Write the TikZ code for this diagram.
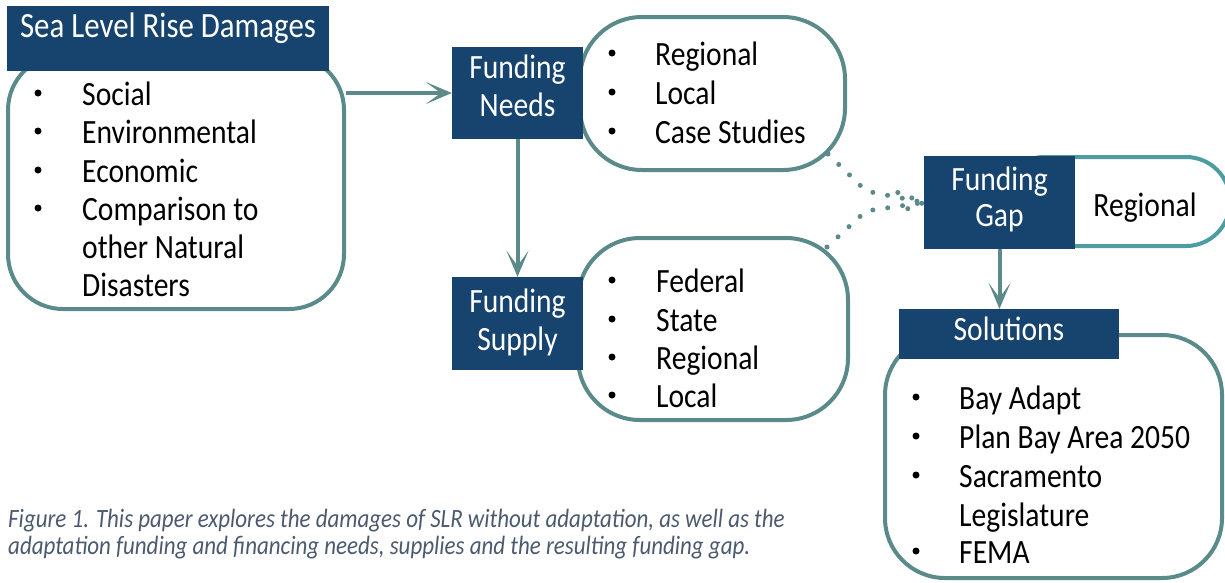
\documentclass[tikz,border=0pt]{standalone}
\usepackage{fontspec}
\setmainfont{Carlito}[FakeStretch=0.87]
\usetikzlibrary{arrows.meta,calc}
\definecolor{hblue}{HTML}{17436F}
\definecolor{bteal}{HTML}{5A8A89}
\definecolor{gteal}{HTML}{4D9CA2}
\definecolor{capc}{HTML}{4B5A6E}
\begin{document}
\begin{tikzpicture}[x=1pt,y=-1pt,
  box/.style={draw=bteal, line width=4pt, fill=white, inner sep=0pt},
  hdr/.style={fill=hblue, inner sep=0pt},
  htxt/.style={text=white, anchor=base, inner sep=0pt, font=\fontsize{34}{40}\selectfont},
  itm/.style={anchor=base west, inner sep=0pt, font=\fontsize{34}{40}\selectfont},
  lbl/.style={anchor=base, inner sep=0pt, font=\fontsize{34}{40}\selectfont},
  bul/.style={circle, fill=black, inner sep=0pt, minimum size=7pt},
  captxt/.style={anchor=base west, inner sep=0pt, text=capc, font=\fontsize{26.4}{30}\selectfont\itshape},
  arr/.style={draw=bteal, line width=4pt, -{Stealth[length=26pt,width=22pt,inset=15pt]}},
  dotl/.style={draw=bteal, line width=5pt, line cap=round, dash pattern=on 0pt off 15pt}
]
\useasboundingbox (0,0) rectangle (1225,582);

% rounded boxes
\node[box, minimum width=336pt, minimum height=254pt, rounded corners=55pt] (b1) at (176,182) {};
\node[box, minimum width=265pt, minimum height=153pt, rounded corners=62pt] (nb) at (712.5,93.5) {};
\node[box, minimum width=270pt, minimum height=182pt, rounded corners=62pt] (sb) at (713,329) {};
\node[box, draw=gteal, minimum width=230pt, minimum height=89pt, rounded corners=44pt] (gb) at (1115,201.5) {};
\node[box, minimum width=337pt, minimum height=243pt, rounded corners=60pt] (solb) at (1053.5,456.5) {};

% headers
\node[hdr, minimum width=322pt, minimum height=65pt] (h1) at (168,38.5) {};
\node[hdr, minimum width=131pt, minimum height=92pt] (hn) at (517.5,93) {};
\node[hdr, minimum width=131pt, minimum height=93pt] (hs) at (517.5,323.5) {};
\node[hdr, minimum width=151pt, minimum height=93pt] (hg) at (999.5,202.5) {};
\node[hdr, minimum width=220pt, minimum height=50pt] (hsol) at (1009,334) {};

\node[htxt, font=\fontsize{35.5}{40}\selectfont] (h1t) at (168,37) {Sea Level Rise Damages};
\node[htxt] (hnt1) at (517.5,78) {Funding};
\node[htxt] (hnt2) at (517.5,116) {Needs};
\node[htxt] (hst1) at (517.5,312) {Funding};
\node[htxt] (hst2) at (517.5,350) {Supply};
\node[htxt] (hgt1) at (999.5,190) {Funding};
\node[htxt] (hgt2) at (999.5,226) {Gap};
\node[htxt] (hsolt) at (1009,340) {Solutions};
\node[lbl] (gbt) at (1145,216) {Regional};

% lists
\foreach \y/\t/\b [count=\i] in {105/Social/1, 143/Environmental/1, 182/Economic/1, 220/Comparison to/1, 258/other Natural/0, 296/Disasters/0} {
  \node[itm] (d\i) at (82,\y) {\t};
  \ifnum\b=1 \node[bul] (db\i) at (38,\y-12) {};\fi
}
\foreach \y/\t [count=\i] in {65/Regional, 104/Local, 143/Case Studies} {
  \node[itm] (n\i) at (655,\y) {\t};
  \node[bul] (nbl\i) at (612,\y-12) {};
}
\foreach \y/\t [count=\i] in {292/Federal, 331/State, 369/Regional, 407/Local} {
  \node[itm] (s\i) at (656,\y) {\t};
  \node[bul] (sbl\i) at (612,\y-12) {};
}
\foreach \y/\t/\b [count=\i] in {409/Bay Adapt/1, 448/Plan Bay Area 2050/1, 487/Sacramento/1, 526/Legislature/0, 563/FEMA/1} {
  \node[itm] (o\i) at (959,\y) {\t};
  \ifnum\b=1 \node[bul] (obl\i) at (916,\y-12) {};\fi
}

% caption
\node[captxt] (cap1) at (8,527) {Figure 1. This paper explores the damages of SLR without adaptation, as well as the};
\node[captxt] (cap2) at (8,554) {adaptation funding and financing needs, supplies and the resulting funding gap.};

% arrows
\draw[arr] (b1.east |- hn.west) -- (hn.west);
\draw[arr] (hn.south) -- (hs.north);
\draw[arr] (hg.south) -- (hg.south |- hsol.north);

% dotted connectors
\coordinate (d1) at (828,154);
\coordinate (m1) at (866,191);
\coordinate (d2) at (827,247);
\coordinate (m2) at (866,211);
\draw[dotl] (d1) -- (m1) -- (hg.west);
\draw[dotl] (d2) -- (m2) -- (hg.west);
\draw[dotl] ($(hg.west)+(-26,-10)$) -- (hg.west) -- ($(hg.west)+(-26,10)$);
\end{tikzpicture}
\end{document}
